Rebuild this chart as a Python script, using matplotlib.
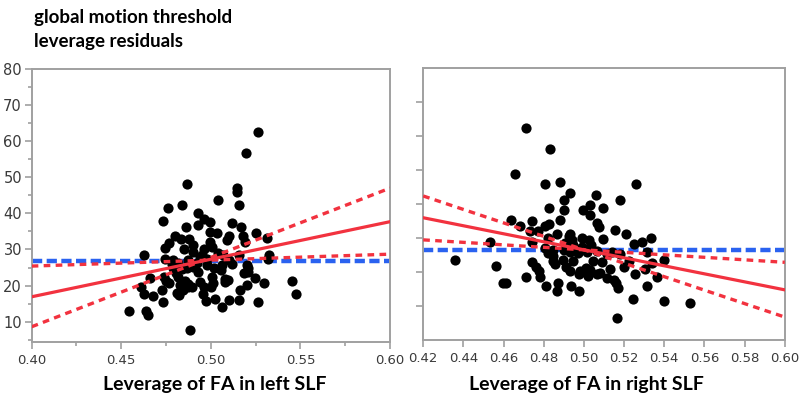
import numpy as np
import matplotlib.pyplot as plt
from matplotlib.ticker import MultipleLocator, NullFormatter

# ---- data ----
left_x = [0.5261, 0.5196, 0.4867, 0.5144, 0.5148, 0.5042, 0.5155, 0.4839, 0.4763, 0.4735,
          0.4927, 0.4960, 0.4997, 0.5120, 0.5168, 0.4861, 0.4927, 0.4995, 0.5036, 0.5250,
          0.5100, 0.5180, 0.5312, 0.4800, 0.4833, 0.4876, 0.4765, 0.4995, 0.5092, 0.5193,
          0.4744, 0.4851, 0.4962, 0.4902, 0.5008, 0.5042, 0.5070, 0.5159, 0.4627, 0.5327,
          0.5316, 0.4746, 0.4791, 0.4870, 0.4940, 0.4977, 0.5103, 0.4783, 0.4819, 0.4876,
          0.4921, 0.4981, 0.5061, 0.5116, 0.5200, 0.4791, 0.4837, 0.4867, 0.5020, 0.5059,
          0.5209, 0.4806, 0.4927, 0.5183, 0.5205, 0.4739, 0.4819, 0.5008, 0.4662, 0.5244,
          0.5079, 0.4750, 0.4858, 0.5098, 0.5453, 0.4938, 0.5014, 0.4768, 0.4874, 0.5081,
          0.5299, 0.4830, 0.4897, 0.4960, 0.4999, 0.5200, 0.4610, 0.4625, 0.4727, 0.4847,
          0.4809, 0.4872, 0.4955, 0.4822, 0.5163, 0.5477, 0.4679, 0.5023, 0.4973, 0.5103,
          0.5159, 0.4735, 0.5261, 0.5064, 0.4545, 0.4636, 0.4647, 0.4882, 0.4902, 0.4949,
          0.4902]
left_y = [62.5, 56.7, 48.1, 47.0, 45.8, 43.6, 42.4, 42.4, 41.6, 38.0,
          40.0, 38.4, 37.5, 37.3, 36.3, 36.3, 36.8, 34.9, 34.7, 34.5,
          33.8, 33.8, 33.1, 33.6, 32.9, 32.9, 31.9, 32.2, 32.6, 32.0,
          30.3, 30.0, 30.0, 29.4, 30.6, 28.9, 28.5, 28.5, 28.5, 28.5,
          27.4, 27.4, 27.1, 27.1, 27.8, 27.3, 27.1, 26.0, 26.2, 26.0,
          26.3, 25.6, 25.8, 26.0, 25.8, 24.8, 24.5, 24.8, 24.8, 24.3,
          25.0, 23.4, 23.8, 23.4, 23.8, 22.5, 22.3, 22.3, 22.0, 22.0,
          21.7, 21.4, 21.4, 21.5, 21.4, 21.1, 20.8, 20.8, 20.4, 20.9,
          20.6, 20.2, 19.5, 19.5, 19.5, 20.2, 19.7, 17.8, 18.9, 18.9,
          18.0, 19.5, 17.8, 17.4, 18.8, 17.6, 17.1, 16.4, 15.8, 16.0,
          16.0, 15.4, 15.4, 14.1, 13.0, 13.0, 11.8, 7.8, 31.2, 28.5,
          25.2]

right_x = [0.4711, 0.4830, 0.4658, 0.5258, 0.4807, 0.4883, 0.4930, 0.4903, 0.5058, 0.5179,
           0.5031, 0.5096, 0.4824, 0.4993, 0.4903, 0.5031, 0.4883, 0.4635, 0.4741, 0.5063,
           0.4827, 0.4807, 0.4684, 0.5073, 0.4733, 0.4769, 0.5154, 0.5212, 0.4867, 0.4927,
           0.4820, 0.4988, 0.5026, 0.5096, 0.4940, 0.5335, 0.5288, 0.4535, 0.4744, 0.5248,
           0.4907, 0.4947, 0.4988, 0.5033, 0.4807, 0.4844, 0.4903, 0.5063, 0.5141, 0.5312,
           0.5179, 0.4930, 0.4970, 0.5013, 0.4820, 0.5116, 0.4356, 0.5400, 0.4741, 0.4847,
           0.4947, 0.5046, 0.5092, 0.5225, 0.5340, 0.4857, 0.4562, 0.4761, 0.4910, 0.5010,
           0.5129, 0.5199, 0.5306, 0.4777, 0.4930, 0.4980, 0.5030, 0.5079, 0.5253, 0.4781,
           0.4711, 0.4976, 0.5021, 0.5063, 0.5116, 0.5152, 0.5365, 0.4595, 0.4610, 0.4870,
           0.5159, 0.5170, 0.4809, 0.4938, 0.5312, 0.4868, 0.4975, 0.5242, 0.5400, 0.5529,
           0.5166, 0.4933, 0.4897, 0.4847]
right_y = [62.3, 56.0, 48.7, 45.7, 45.8, 46.4, 43.3, 41.1, 42.7, 41.1,
           39.6, 38.9, 38.8, 38.2, 38.2, 36.6, 35.2, 35.2, 34.8, 34.5,
           34.1, 33.6, 33.6, 33.3, 32.1, 32.1, 32.3, 31.0, 31.1, 30.4,
           29.9, 29.9, 29.4, 29.7, 29.4, 29.8, 28.9, 28.9, 28.9, 28.1,
           28.4, 27.8, 27.4, 27.8, 27.1, 26.4, 26.4, 26.2, 25.8, 25.7,
           25.2, 25.7, 25.5, 25.8, 25.5, 25.3, 23.5, 23.5, 23.0, 23.2,
           23.2, 23.2, 22.8, 23.2, 22.5, 22.3, 21.8, 21.5, 21.4, 21.1,
           20.8, 21.5, 20.8, 20.1, 20.1, 20.1, 20.6, 19.6, 19.3, 18.4,
           18.6, 19.3, 18.8, 19.3, 18.1, 17.6, 18.4, 16.7, 16.7, 16.8,
           16.8, 15.2, 15.9, 15.9, 15.9, 14.4, 14.4, 12.0, 11.3, 10.8,
           6.5, 31.1, 23.5, 24.7]

# fit line, confidence curves and mean line (end values at the x limits)
left_xlim = [0.40, 0.60]
left_fit = [16.9, 37.7]
left_ci_steep = [8.6, 47.0]
left_ci_flat = [25.4, 28.7]
left_mean = 26.8

right_xlim = [0.42, 0.60]
right_fit = [35.9, 14.7]
right_ci_steep = [42.3, 6.7]
right_ci_flat = [29.4, 22.8]
right_mean = 26.4

title_lines = ["global motion threshold", "leverage residuals"]
left_label = "Leverage of FA in left SLF"
right_label = "Leverage of FA in right SLF"

RED = "#f2323f"
BLUE = "#2a62f0"
GRAY = "#a0a0a0"

fig = plt.figure(figsize=(8, 4.08), dpi=100)
ax1 = fig.add_axes([0.0396, 0.162, 0.448, 0.669])
ax2 = fig.add_axes([0.529, 0.167, 0.452, 0.667])


def draw_panel(ax, xs, ys, xlim, fit, ci1, ci2, mean):
    ax.plot(xlim, [mean, mean], color=BLUE, lw=3.2, ls=(0, (2.3, 1.0)), zorder=2)
    ax.scatter(xs, ys, s=54, color="black", zorder=3, linewidths=0)
    ax.plot(xlim, fit, color=RED, lw=2.3, zorder=4)
    ax.plot(xlim, ci1, color=RED, lw=2.4, ls=(0, (2.0, 1.6)), zorder=4)
    ax.plot(xlim, ci2, color=RED, lw=2.4, ls=(0, (2.0, 1.6)), zorder=4)
    ax.set_xlim(xlim)
    for s in ax.spines.values():
        s.set_color(GRAY)
        s.set_linewidth(1.4)
    ax.tick_params(which="both", direction="out", color=GRAY, labelcolor="#3a3a3a",
                   labelsize=9.5, width=1.2)
    ax.tick_params(which="major", length=5)
    ax.tick_params(which="minor", length=3)
    ax.tick_params(axis="x", pad=4)


draw_panel(ax1, left_x, left_y, left_xlim, left_fit, left_ci_steep, left_ci_flat, left_mean)
ax1.set_ylim(4.4, 80)
ax1.set_xticks(np.arange(0.40, 0.601, 0.05))
ax1.xaxis.set_minor_locator(MultipleLocator(0.025))
ax1.set_yticks(np.arange(10, 81, 10))
ax1.yaxis.set_minor_locator(MultipleLocator(5))
ax1.xaxis.set_major_formatter(plt.FormatStrFormatter("%.2f"))
ax1.tick_params(axis="y", labelsize=10.5, pad=2)

draw_panel(ax2, right_x, right_y, right_xlim, right_fit, right_ci_steep, right_ci_flat, right_mean)
ax2.set_ylim(0, 80)
ax2.set_xticks(np.arange(0.42, 0.601, 0.02))
ax2.xaxis.set_major_formatter(plt.FormatStrFormatter("%.2f"))
ax2.set_yticks(np.arange(10, 71, 10))
ax2.yaxis.set_major_formatter(NullFormatter())

fig.text(0.043, 0.958, title_lines[0], fontsize=13.5, fontweight="bold", family="Lato",
         va="center", ha="left")
fig.text(0.043, 0.898, title_lines[1], fontsize=13.5, fontweight="bold", family="Lato",
         va="center", ha="left")
fig.text(0.269, 0.058, left_label, fontsize=14, fontweight="bold", family="Lato",
         va="center", ha="center")
fig.text(0.733, 0.058, right_label, fontsize=14, fontweight="bold", family="Lato",
         va="center", ha="center")

fig.savefig("out.png", dpi=100)
